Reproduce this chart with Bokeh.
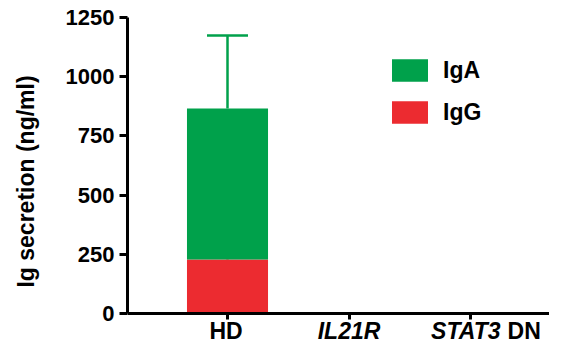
from bokeh.plotting import figure
from bokeh.models import (Range1d, FixedTicker, Whisker, TeeHead, ColumnDataSource,
                          Legend, LegendItem)
from bokeh.core.properties import value
from bokeh.embed import file_html
from bokeh.resources import INLINE

categories = ["HD", "IL21R", "STAT3 DN"]
tick_italic = ["", "IL21R", "STAT3"]
tick_plain = ["HD", "", "DN"]
igg = [228, 0, 0]
iga = [638, 0, 0]
igg_err = [55, 0, 0]
iga_err = [308, 0, 0]
y_ticks = [0, 250, 500, 750, 1000, 1250]

GREEN = "#00A14B"
RED = "#EC2B30"
FONT = "Liberation Sans"

xs = list(range(len(categories)))
total = [g + a for g, a in zip(igg, iga)]
src = ColumnDataSource(dict(x=xs, igg=igg, iga=iga, total=total,
                            igg_up=[g + e for g, e in zip(igg, igg_err)],
                            iga_up=[t + e for t, e in zip(total, iga_err)]))

# label layout (screen offsets); mixed labels join italic + plain parts
it_dx = [0, 0, 30]
pl_dx = [-1.5, 0, 37]
it_rows = [i for i, t in enumerate(tick_italic) if t]
pl_rows = [i for i, t in enumerate(tick_plain) if t]
it_src = ColumnDataSource(dict(
    x=[xs[i] for i in it_rows], y=[0] * len(it_rows),
    t=[tick_italic[i] for i in it_rows], dx=[it_dx[i] for i in it_rows],
    al=["right" if tick_plain[i] else "center" for i in it_rows]))
pl_src = ColumnDataSource(dict(
    x=[xs[i] for i in pl_rows], y=[0] * len(pl_rows),
    t=[tick_plain[i] for i in pl_rows], dx=[pl_dx[i] for i in pl_rows],
    al=["left" if tick_italic[i] else "center" for i in pl_rows]))

p = figure(width=549, height=345, output_backend="svg", toolbar_location=None,
           x_range=Range1d(-0.823, 2.650), y_range=Range1d(-135.1, 1250),
           min_border_left=127, min_border_top=17, min_border_bottom=0, min_border_right=0)
p.outline_line_color = None
p.grid.visible = False
p.background_fill_color = None
p.border_fill_color = "white"

BW = 0.667
r_igg = p.vbar(x="x", bottom=0, top="igg", width=BW, source=src, fill_color=RED, line_color=None)
r_iga = p.vbar(x="x", bottom="igg", top="total", width=BW, source=src, fill_color=GREEN, line_color=None)

for base, up, col in (("total", "iga_up", GREEN), ("igg", "igg_up", RED)):
    w = Whisker(base="x", lower=base, upper=up, source=src, dimension="height",
                line_color=col, line_width=2.5,
                upper_head=TeeHead(size=41, line_color=col, line_width=2.5),
                lower_head=None)
    p.add_layout(w)

# axes
for ax in (p.xaxis[0], p.yaxis[0]):
    ax.axis_line_width = 3
    ax.major_tick_line_width = 3
    ax.minor_tick_line_color = None
    ax.major_tick_in = 0
    ax.major_label_text_font = FONT
    ax.major_label_text_font_style = "bold"
    ax.major_label_text_font_size = "22px"
    ax.major_label_text_color = "black"

p.yaxis.ticker = FixedTicker(ticks=y_ticks)
p.yaxis.bounds = (0, 1250)
p.yaxis.major_tick_out = 8
p.yaxis.major_label_standoff = 5
p.yaxis.axis_label = "Ig secretion (ng/ml)"
p.yaxis.axis_label_text_font = FONT
p.yaxis.axis_label_text_font_style = "bold"
p.yaxis.axis_label_text_font_size = "23px"
p.yaxis.axis_label_text_color = "black"
p.yaxis.axis_label_standoff = 24

p.xaxis.ticker = FixedTicker(ticks=xs)
p.xaxis.fixed_location = 0
p.xaxis.major_tick_out = 6
p.xaxis.major_label_text_font_size = "0px"
p.xaxis.major_label_text_color = None

# x tick labels with mixed italics
p.text(x="x", y="y", text="t", source=it_src, x_offset="dx", y_offset=17,
       text_align="al", text_baseline="middle",
       text_font=value(FONT), text_font_style="bold italic",
       text_font_size="23px", text_color="black")
p.text(x="x", y="y", text="t", source=pl_src, x_offset="dx", y_offset=17,
       text_align="al", text_baseline="middle",
       text_font=value(FONT), text_font_style="bold",
       text_font_size="23px", text_color="black")

legend = Legend(items=[LegendItem(label="IgA", renderers=[r_iga]),
                       LegendItem(label="IgG", renderers=[r_igg])],
                location=(260, 219), orientation="vertical",
                glyph_width=45, glyph_height=28, label_height=28, label_standoff=11,
                spacing=14, padding=0, margin=0, border_line_color=None,
                background_fill_alpha=0,
                label_text_font=FONT, label_text_font_style="bold",
                label_text_font_size="23px", label_text_color="black")
p.add_layout(legend)

open("out.html", "w").write(file_html(p, INLINE))
